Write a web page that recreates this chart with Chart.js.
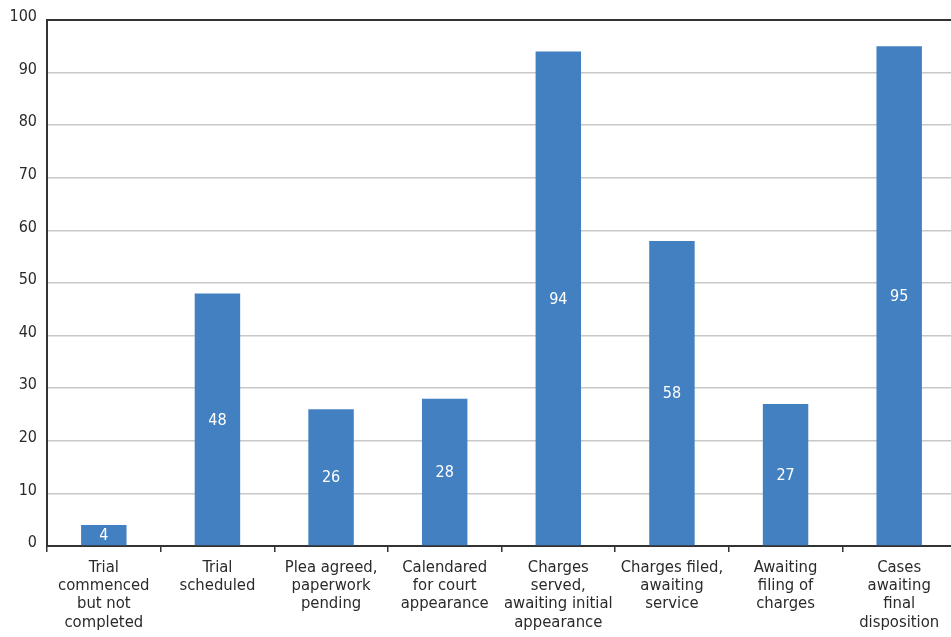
<!DOCTYPE html>
<html>
<head>
<meta charset="utf-8">
<script src="https://cdn.jsdelivr.net/npm/chart.js@4"></script>
<style>
  html, body { margin: 0; padding: 0; overflow: hidden; background: #fff; }
  #wrap { width: 956px; height: 637px; position: relative; }
</style>
</head>
<body>
<div id="wrap"><canvas id="c"></canvas></div>
<script>
const categories = [
  ["Trial", "commenced", "but not", "completed"],
  ["Trial", "scheduled"],
  ["Plea agreed,", "paperwork", "pending"],
  ["Calendared", "for court", "appearance"],
  ["Charges", "served,", "awaiting initial", "appearance"],
  ["Charges filed,", "awaiting", "service"],
  ["Awaiting", "filing of", "charges"],
  ["Cases", "awaiting", "final", "disposition"]
];
const values = [4, 48, 26, 28, 94, 58, 27, 95];
const yTicks = [0, 10, 20, 30, 40, 50, 60, 70, 80, 90, 100];

const FONT = "'DejaVu Sans Condensed', 'Liberation Sans Narrow', sans-serif";
const TEXT = '#2a2a2a';

const labelPlugin = {
  id: 'centerLabels',
  afterDatasetsDraw(chart) {
    const ctx = chart.ctx;
    const meta = chart.getDatasetMeta(0);
    ctx.save();
    ctx.fillStyle = '#ffffff';
    ctx.font = "16px " + FONT;
    ctx.textAlign = 'center';
    ctx.textBaseline = 'middle';
    meta.data.forEach((bar, i) => {
      const p = bar.getProps(['x', 'y', 'base'], true);
      ctx.fillText(String(values[i]), p.x, (p.y + p.base) / 2 + 1);
    });
    ctx.restore();
  }
};

new Chart(document.getElementById('c'), {
  type: 'bar',
  data: {
    labels: categories,
    datasets: [{
      data: values,
      backgroundColor: '#4380c1',
      borderWidth: 0,
      barPercentage: 0.4,
      categoryPercentage: 1.0
    }]
  },
  options: {
    responsive: true,
    maintainAspectRatio: false,
    animation: false,
    layout: { padding: { top: 20, right: 0, left: 0, bottom: 0 } },
    plugins: { legend: { display: false }, tooltip: { enabled: false } },
    scales: {
      x: {
        afterFit(scale) { scale.height = 91; },
        grid: {
          offset: true,
          drawOnChartArea: false,
          drawTicks: true,
          tickLength: 6,
          color: '#333333',
          lineWidth: 1.5
        },
        border: { display: true, color: '#333333', width: 2 },
        ticks: {
          color: TEXT,
          font: { family: FONT, size: 16.5, lineHeight: 1.12 },
          maxRotation: 0,
          minRotation: 0,
          autoSkip: false,
          padding: 6
        }
      },
      y: {
        min: 0,
        max: 100,
        afterFit(scale) { scale.width = 47; },
        afterBuildTicks(scale) { scale.ticks = yTicks.map(v => ({ value: v })); },
        grid: {
          drawTicks: false,
          color: ctx => (ctx.tick && ctx.tick.value === 100) ? '#333333' : '#c8c8c8',
          lineWidth: ctx => (ctx.tick && ctx.tick.value === 100) ? 2 : 1.5
        },
        border: { display: true, color: '#333333', width: 2 },
        ticks: {
          color: TEXT,
          font: { family: FONT, size: 16 },
          padding: 10,
          labelOffset: -3
        }
      }
    }
  },
  plugins: [labelPlugin]
});
</script>
</body>
</html>
